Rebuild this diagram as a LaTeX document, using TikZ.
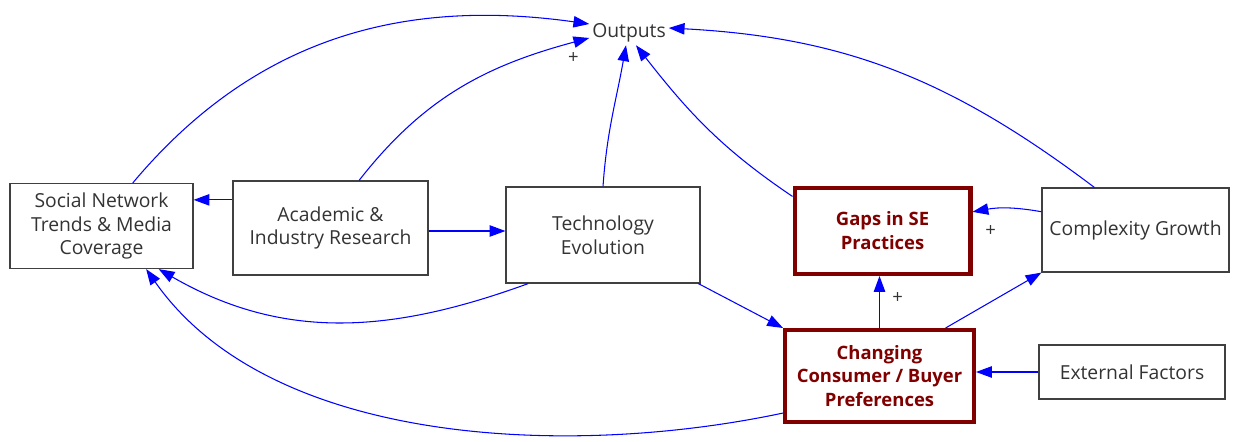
\documentclass[tikz,border=0pt]{standalone}
\usepackage{fontspec}
\setmainfont{Open Sans}
\usetikzlibrary{arrows.meta}
\definecolor{gapred}{HTML}{800000}
\definecolor{textgray}{HTML}{333333}
\definecolor{boxgray}{HTML}{404040}

\begin{document}
\begin{tikzpicture}[x=0.02cm, y=-0.02cm,
    font=\fontsize{11}{13.6}\selectfont, text=textgray,
    box/.style={draw=boxgray, line width=0.7pt, align=center, inner sep=0pt},
    keybox/.style={draw=gapred, line width=2.3pt, align=center, inner sep=0pt,
                   text=gapred, font=\fontsize{10.5}{13.6}\selectfont\bfseries},
    flow/.style={-{Triangle[length=9pt,width=6.5pt]}, blue, line width=0.6pt},
    sign/.style={text=textgray, font=\fontsize{10.5}{12}\selectfont, inner sep=0pt}]
    \useasboundingbox (0,0) rectangle (1233,442);

    \node[inner sep=1.5pt] (O) at (629,33) {Outputs};
    \node[box, minimum width=3.66cm, minimum height=1.70cm] (S) at (101.5,226)   {Social Network\\Trends \& Media\\Coverage};
    \node[box, minimum width=3.90cm, minimum height=1.88cm] (R) at (330.5,228)   {Academic \&\\Industry Research};
    \node[box, minimum width=3.88cm, minimum height=1.92cm] (T) at (603,235)     {Technology\\Evolution};
    \node[keybox, minimum width=3.52cm, minimum height=1.72cm] (G) at (882.5,231) {Gaps in SE\\Practices};
    \node[box, minimum width=3.74cm, minimum height=1.68cm] (C) at (1135.5,230)  {Complexity Growth};
    \node[keybox, minimum width=3.78cm, minimum height=1.84cm] (P) at (879.5,376) {Changing\\Consumer / Buyer\\Preferences};
    \node[box, minimum width=3.72cm, minimum height=1.08cm] (X) at (1132,372)    {External Factors};

    % into Outputs
    \draw[flow] (S.54)  to[out=50,in=172]  ([yshift=0.18cm]O.west);
    \draw[flow] (R.59)  to[out=52,in=195]  node[sign, at end, xshift=-0.32cm, yshift=-0.4cm] {+} ([yshift=-0.1cm]O.west);
    \draw[flow] (T.north) to[out=86,in=-100] ([xshift=-0.06cm]O.south);
    \draw[flow] (G.159) to[out=146,in=-52] ([xshift=0.14cm]O.south);
    \draw[flow] (C.134) to[out=143,in=-3]  ([yshift=0.1cm]O.east);

    % between the boxes
    \draw[flow] (R.164) -- (R.164 -| S.east);
    \draw[flow] ([yshift=-0.06cm]R.east) -- ([yshift=-0.06cm]R.east -| T.west);
    \draw[flow] (T.213) to[out=200,in=-30] (S.-37);
    \draw[flow] (P.201) to[out=192,in=-55,looseness=0.85] (S.-44);
    \draw[flow] (T.-27) -- (P.north west);
    \draw[flow] (P.north) -- node[sign, pos=0.58, right=7pt] {+} (P.north |- G.south);
    \draw[flow] (P.36) -- (C.south west);
    \draw[flow] (C.169) to[bend right=10] node[sign, pos=0.75, below=9pt] {+} (G.12);
    \draw[flow] (X.west) -- (X.west -| P.east);
\end{tikzpicture}
\end{document}
